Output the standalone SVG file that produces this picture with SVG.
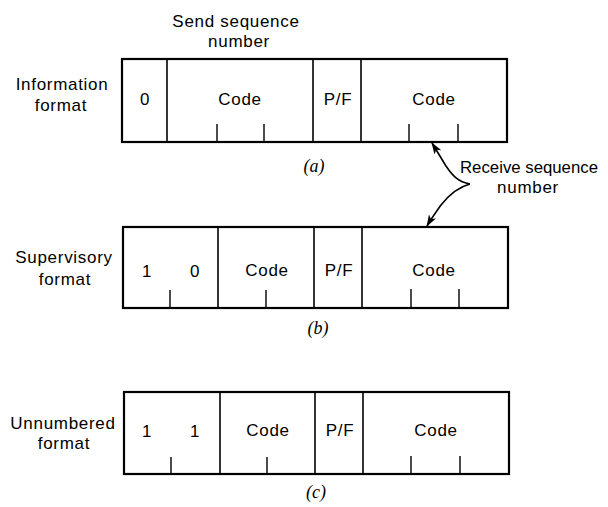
<svg xmlns="http://www.w3.org/2000/svg" width="608" height="507" viewBox="0 0 608 507">
<style>
.t{font-family:"Liberation Sans",Arial,sans-serif;font-size:17px;letter-spacing:0.7px;fill:#000;text-anchor:middle}
.cap{font-family:"Liberation Serif","Times New Roman",serif;font-style:italic;font-size:18px;fill:#000;text-anchor:middle}
.box{fill:none;stroke:#000;stroke-width:2.2}
.div{stroke:#000;stroke-width:1.6}
.tick{stroke:#000;stroke-width:1.4}
.con{fill:none;stroke:#000;stroke-width:1.6}
</style>
<defs>
<marker id="ah" viewBox="0 0 12 8" refX="11" refY="4" markerWidth="12" markerHeight="8" markerUnits="userSpaceOnUse" orient="auto">
<path d="M0,0 L12,4 L0,8 L3,4 z" fill="#000"/>
</marker>
</defs>
<rect width="608" height="507" fill="#fff"/>

<g id="info-format">
<rect class="box" x="122" y="59" width="385" height="83"/>
<line class="div" x1="167" y1="59" x2="167" y2="142"/>
<line class="div" x1="313" y1="59" x2="313" y2="142"/>
<line class="div" x1="361" y1="59" x2="361" y2="142"/>
<line class="tick" x1="217" y1="124" x2="217" y2="142"/>
<line class="tick" x1="264" y1="124" x2="264" y2="142"/>
<line class="tick" x1="409" y1="124" x2="409" y2="142"/>
<line class="tick" x1="458" y1="124" x2="458" y2="142"/>
<text class="t" x="62" y="90">Information</text>
<text class="t" x="61" y="111">format</text>
<text class="t" x="145" y="105">0</text>
<text class="t" x="240" y="105">Code</text>
<text class="t" x="338" y="105">P/F</text>
<text class="t" x="434" y="105">Code</text>
<text class="t" x="236" y="27">Send sequence</text>
<text class="t" x="239" y="47">number</text>
<text class="cap" x="314" y="172">(a)</text>
</g>

<g id="supervisory-format">
<rect class="box" x="123" y="227" width="385" height="81"/>
<line class="div" x1="218" y1="227" x2="218" y2="308"/>
<line class="div" x1="314" y1="227" x2="314" y2="308"/>
<line class="div" x1="362" y1="227" x2="362" y2="308"/>
<line class="tick" x1="170" y1="290" x2="170" y2="308"/>
<line class="tick" x1="266" y1="290" x2="266" y2="308"/>
<line class="tick" x1="411" y1="289" x2="411" y2="308"/>
<line class="tick" x1="459" y1="289" x2="459" y2="308"/>
<text class="t" x="64" y="263">Supervisory</text>
<text class="t" x="65" y="285">format</text>
<text class="t" x="147" y="277">1</text>
<text class="t" x="195" y="277">0</text>
<text class="t" x="267" y="276">Code</text>
<text class="t" x="339" y="276">P/F</text>
<text class="t" x="434" y="276">Code</text>
<text class="cap" x="318" y="334">(b)</text>
</g>

<g id="unnumbered-format">
<rect class="box" x="124" y="392" width="385" height="82"/>
<line class="div" x1="220" y1="392" x2="220" y2="474"/>
<line class="div" x1="315" y1="392" x2="315" y2="474"/>
<line class="div" x1="363" y1="392" x2="363" y2="474"/>
<line class="tick" x1="171" y1="457" x2="171" y2="474"/>
<line class="tick" x1="267" y1="457" x2="267" y2="474"/>
<line class="tick" x1="411" y1="456" x2="411" y2="474"/>
<line class="tick" x1="460" y1="456" x2="460" y2="474"/>
<text class="t" x="63" y="429">Unnumbered</text>
<text class="t" x="64" y="449">format</text>
<text class="t" x="147" y="437">1</text>
<text class="t" x="195" y="437">1</text>
<text class="t" x="268" y="436">Code</text>
<text class="t" x="340" y="436">P/F</text>
<text class="t" x="436" y="436">Code</text>
<text class="cap" x="316" y="498">(c)</text>
</g>

<g id="receive-label">
<text class="t" x="460" y="173" style="text-anchor:start;letter-spacing:0" textLength="138" lengthAdjust="spacingAndGlyphs">Receive sequence</text>
<text class="t" x="528" y="193">number</text>
</g>

<g id="connectors">
<path class="con" d="M470,184 C458,182 452,175 446,166 C441,158 437,151 432,143" marker-end="url(#ah)"/>
<path class="con" d="M470,184 C458,187 449,195 441,205 C436,212 431,219 427,226" marker-end="url(#ah)"/>
</g>
</svg>
